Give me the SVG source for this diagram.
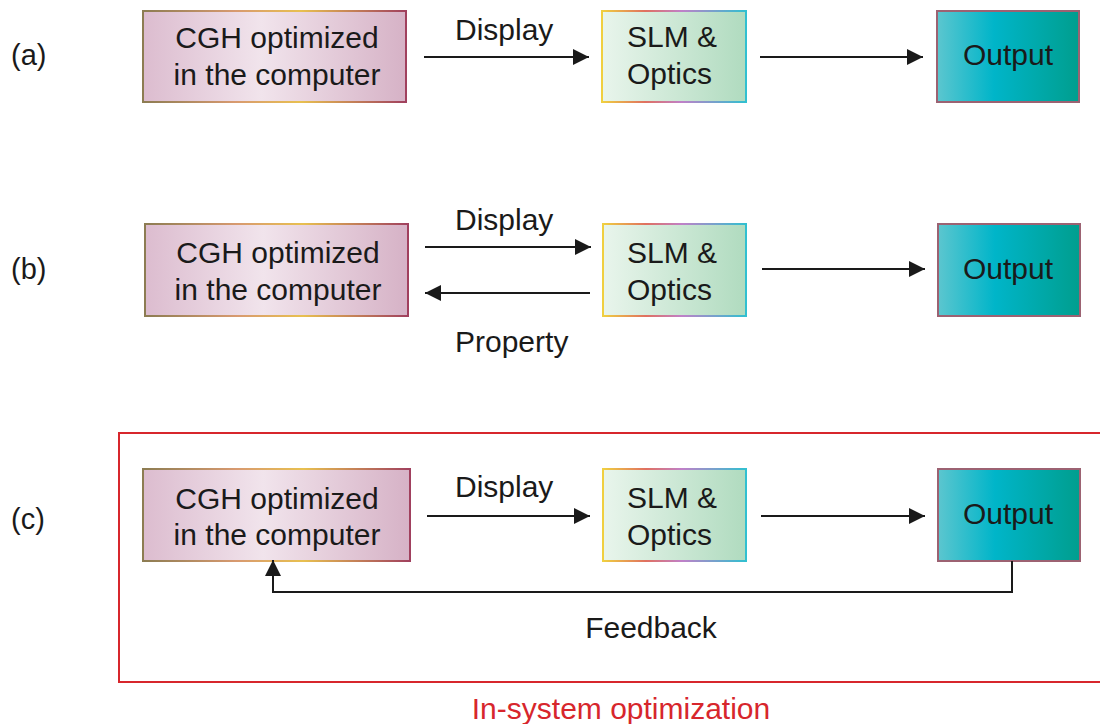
<svg xmlns="http://www.w3.org/2000/svg" width="1100" height="724" viewBox="0 0 1100 724">
  <defs>
    <linearGradient id="cghFill" x1="0" y1="0" x2="1" y2="0">
      <stop offset="0" stop-color="#dcbccf"/>
      <stop offset="0.45" stop-color="#f1e4ec"/>
      <stop offset="1" stop-color="#d6b2c6"/>
    </linearGradient>
    <linearGradient id="cghStroke" x1="0" y1="0" x2="1" y2="0">
      <stop offset="0" stop-color="#8c7c52"/>
      <stop offset="0.35" stop-color="#d89a70"/>
      <stop offset="0.6" stop-color="#e8c050"/>
      <stop offset="1" stop-color="#a0405e"/>
    </linearGradient>
    <linearGradient id="slmFill" x1="0" y1="0" x2="1" y2="0">
      <stop offset="0" stop-color="#e9f5ec"/>
      <stop offset="1" stop-color="#b0dbbf"/>
    </linearGradient>
    <linearGradient id="slmStroke" x1="0" y1="0" x2="1" y2="0">
      <stop offset="0" stop-color="#f0d040"/>
      <stop offset="0.3" stop-color="#e07060"/>
      <stop offset="0.55" stop-color="#c080c8"/>
      <stop offset="1" stop-color="#30c0d0"/>
    </linearGradient>
    <linearGradient id="outFill" x1="0" y1="0" x2="1" y2="0">
      <stop offset="0" stop-color="#5cc6cf"/>
      <stop offset="0.4" stop-color="#00b5c9"/>
      <stop offset="1" stop-color="#009e8e"/>
    </linearGradient>
    <marker id="arrow" viewBox="0 0 16 16" refX="16" refY="8" markerWidth="16" markerHeight="16" markerUnits="userSpaceOnUse" orient="auto">
      <path d="M0,0 L16,8 L0,16 Z" fill="#1a1a1a"/>
    </marker>
  </defs>
  <style>
    text { font-family: "Liberation Sans", Arial, sans-serif; font-size: 30px; fill: #1a1a1a; }
    .mid { text-anchor: middle; }
    .tag { font-size: 29px; }
    .red { fill: #d7262c; }
    .cgh { fill: url(#cghFill); stroke: url(#cghStroke); stroke-width: 2; }
    .slm { fill: url(#slmFill); stroke: url(#slmStroke); stroke-width: 2; }
    .out { fill: url(#outFill); stroke: #9c6272; stroke-width: 2; }
    .conn { fill: none; stroke: #1a1a1a; stroke-width: 2; marker-end: url(#arrow); }
  </style>

  <!-- row labels -->
  <text class="tag" x="11" y="65">(a)</text>
  <text class="tag" x="11" y="279">(b)</text>
  <text class="tag" x="11" y="529">(c)</text>

  <!-- in-system optimization frame -->
  <g id="frame-c">
    <path d="M1102,433 H119 V682 H1102" fill="none" stroke="#d7262c" stroke-width="2"/>
    <text class="mid red" x="621" y="719">In-system optimization</text>
  </g>

  <!-- row (a) -->
  <g id="a-cgh">
    <rect class="cgh" x="143" y="11" width="263" height="91"/>
    <text class="mid" x="277" y="48">CGH optimized</text>
    <text class="mid" x="277" y="85">in the computer</text>
  </g>
  <g id="a-slm">
    <rect class="slm" x="602" y="11" width="144" height="91"/>
    <text x="627" y="47">SLM &amp;</text>
    <text x="627" y="84">Optics</text>
  </g>
  <g id="a-out">
    <rect class="out" x="937" y="11" width="142" height="91"/>
    <text class="mid" x="1008" y="65">Output</text>
  </g>

  <!-- row (b) -->
  <g id="b-cgh">
    <rect class="cgh" x="145" y="224" width="263" height="92"/>
    <text class="mid" x="278" y="263">CGH optimized</text>
    <text class="mid" x="278" y="300">in the computer</text>
  </g>
  <g id="b-slm">
    <rect class="slm" x="603" y="224" width="143" height="92"/>
    <text x="627" y="263">SLM &amp;</text>
    <text x="627" y="300">Optics</text>
  </g>
  <g id="b-out">
    <rect class="out" x="938" y="224" width="142" height="92"/>
    <text class="mid" x="1008" y="279">Output</text>
  </g>

  <!-- row (c) -->
  <g id="c-cgh">
    <rect class="cgh" x="143" y="469" width="267" height="92"/>
    <text class="mid" x="277" y="509">CGH optimized</text>
    <text class="mid" x="277" y="545">in the computer</text>
  </g>
  <g id="c-slm">
    <rect class="slm" x="603" y="469" width="143" height="92"/>
    <text x="627" y="508">SLM &amp;</text>
    <text x="627" y="545">Optics</text>
  </g>
  <g id="c-out">
    <rect class="out" x="938" y="469" width="142" height="92"/>
    <text class="mid" x="1008" y="524">Output</text>
  </g>

  <!-- connectors -->
  <g id="connectors">
    <line class="conn" x1="424" y1="57" x2="589" y2="57"/>
    <text x="455" y="40">Display</text>
    <line class="conn" x1="760" y1="57" x2="923" y2="57"/>

    <line class="conn" x1="425" y1="247" x2="591" y2="247"/>
    <text x="455" y="230">Display</text>
    <line class="conn" x1="590" y1="293" x2="425" y2="293"/>
    <text x="455" y="352">Property</text>
    <line class="conn" x1="762" y1="269" x2="925" y2="269"/>

    <line class="conn" x1="427" y1="516" x2="590" y2="516"/>
    <text x="455" y="497">Display</text>
    <line class="conn" x1="761" y1="516" x2="925" y2="516"/>
    <polyline class="conn" points="1012,561 1012,592 273,592 273,560"/>
    <text class="mid" x="651" y="638">Feedback</text>
  </g>
</svg>
